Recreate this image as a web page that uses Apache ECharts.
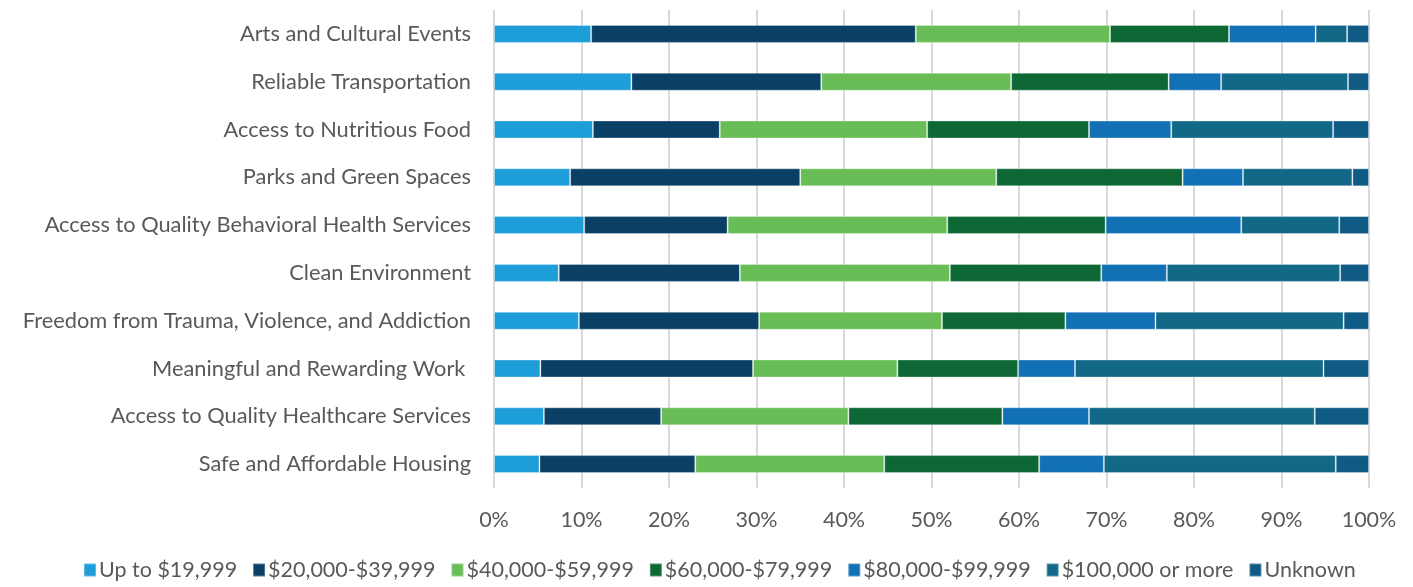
<!DOCTYPE html>
<html>
<head>
    <meta charset="utf-8"/>
    <title>Income by priority</title>
    <style>
        html, body { margin: 0; padding: 0; background: #fff; }
        #chart { width: 1413px; height: 587px; }
    </style>
</head>
<body>
<div id="chart"></div>
<script src="https://cdn.jsdelivr.net/npm/echarts@6/dist/echarts.min.js"></script>
<script type="text/javascript">
    var categories = ['Arts and Cultural Events', 'Reliable Transportation', 'Access to Nutritious Food',
        'Parks and Green Spaces', 'Access to Quality Behavioral Health Services', 'Clean Environment',
        'Freedom from Trauma, Violence, and Addiction', 'Meaningful and Rewarding Work ',
        'Access to Quality Healthcare Services', 'Safe and Affordable Housing'];

    var seriesNames = ['Up to $19,999', '$20,000-$39,999', '$40,000-$59,999', '$60,000-$79,999',
        '$80,000-$99,999', '$100,000 or more', 'Unknown'];

    var colors = ['#1e9ed8', '#0b4066', '#69bd57', '#0e6836', '#1270b5', '#126887', '#0f5b85'];

    // share of each income band per category, in %
    var upTo19999 = [11.1, 15.7, 11.3, 8.7, 10.3, 7.4, 9.7, 5.3, 5.7, 5.2];
    var band20to39 = [37.1, 21.7, 14.5, 26.3, 16.4, 20.7, 20.6, 24.3, 13.4, 17.8];
    var band40to59 = [22.2, 21.7, 23.7, 22.4, 25.1, 24.0, 20.9, 16.5, 21.4, 21.6];
    var band60to79 = [13.6, 18.0, 18.5, 21.3, 18.1, 17.3, 14.1, 13.8, 17.6, 17.7];
    var band80to99 = [9.9, 6.0, 9.4, 6.9, 15.5, 7.5, 10.3, 6.5, 9.9, 7.4];
    var band100plus = [3.6, 14.5, 18.5, 12.5, 11.2, 19.8, 21.5, 28.4, 25.8, 26.5];
    var unknown = [2.5, 2.4, 4.1, 1.9, 3.4, 3.3, 2.9, 5.2, 6.2, 3.8];

    var xTicks = [0, 10, 20, 30, 40, 50, 60, 70, 80, 90, 100];

    var values = [upTo19999, band20to39, band40to59, band60to79, band80to99, band100plus, unknown];

    var series = seriesNames.map(function (name, i) {
        return {
            name: name,
            type: 'bar',
            stack: 'total',
            barWidth: 18,
            data: values[i],
            itemStyle: {
                color: colors[i],
                borderColor: 'rgba(255,255,255,0.3)',
                borderWidth: 1
            }
        };
    });

    var option = {
        animation: false,
        textStyle: { fontFamily: 'Lato' },
        grid: {
            left: 494,
            right: 44,
            top: 10,
            bottom: 99
        },
        legend: {
            data: seriesNames,
            bottom: 1,
            left: 78,
            itemWidth: 12,
            itemHeight: 13,
            itemGap: 15,
            icon: 'rect',
            textStyle: { fontSize: 21.5, color: '#595959', fontFamily: 'Lato', padding: [0, 0, 0, -2] }
        },
        xAxis: {
            type: 'value',
            min: xTicks[0],
            max: xTicks[xTicks.length - 1],
            interval: 10,
            axisLine: { show: false },
            axisTick: { show: false },
            axisLabel: {
                formatter: function (v) { return v + '%'; },
                fontSize: 21.5,
                color: '#595959',
                margin: 21
            },
            splitLine: { lineStyle: { color: '#d9d9d9', width: 2 } }
        },
        yAxis: {
            type: 'category',
            inverse: true,
            data: categories,
            axisLine: { show: false },
            axisTick: { show: false },
            axisLabel: {
                fontSize: 21.8,
                color: '#595959',
                margin: 23,
                padding: [3, 0, 0, 0]
            }
        },
        series: series
    };

    var chart = echarts.init(document.getElementById('chart'));
    chart.setOption(option);
</script>
</body>
</html>
